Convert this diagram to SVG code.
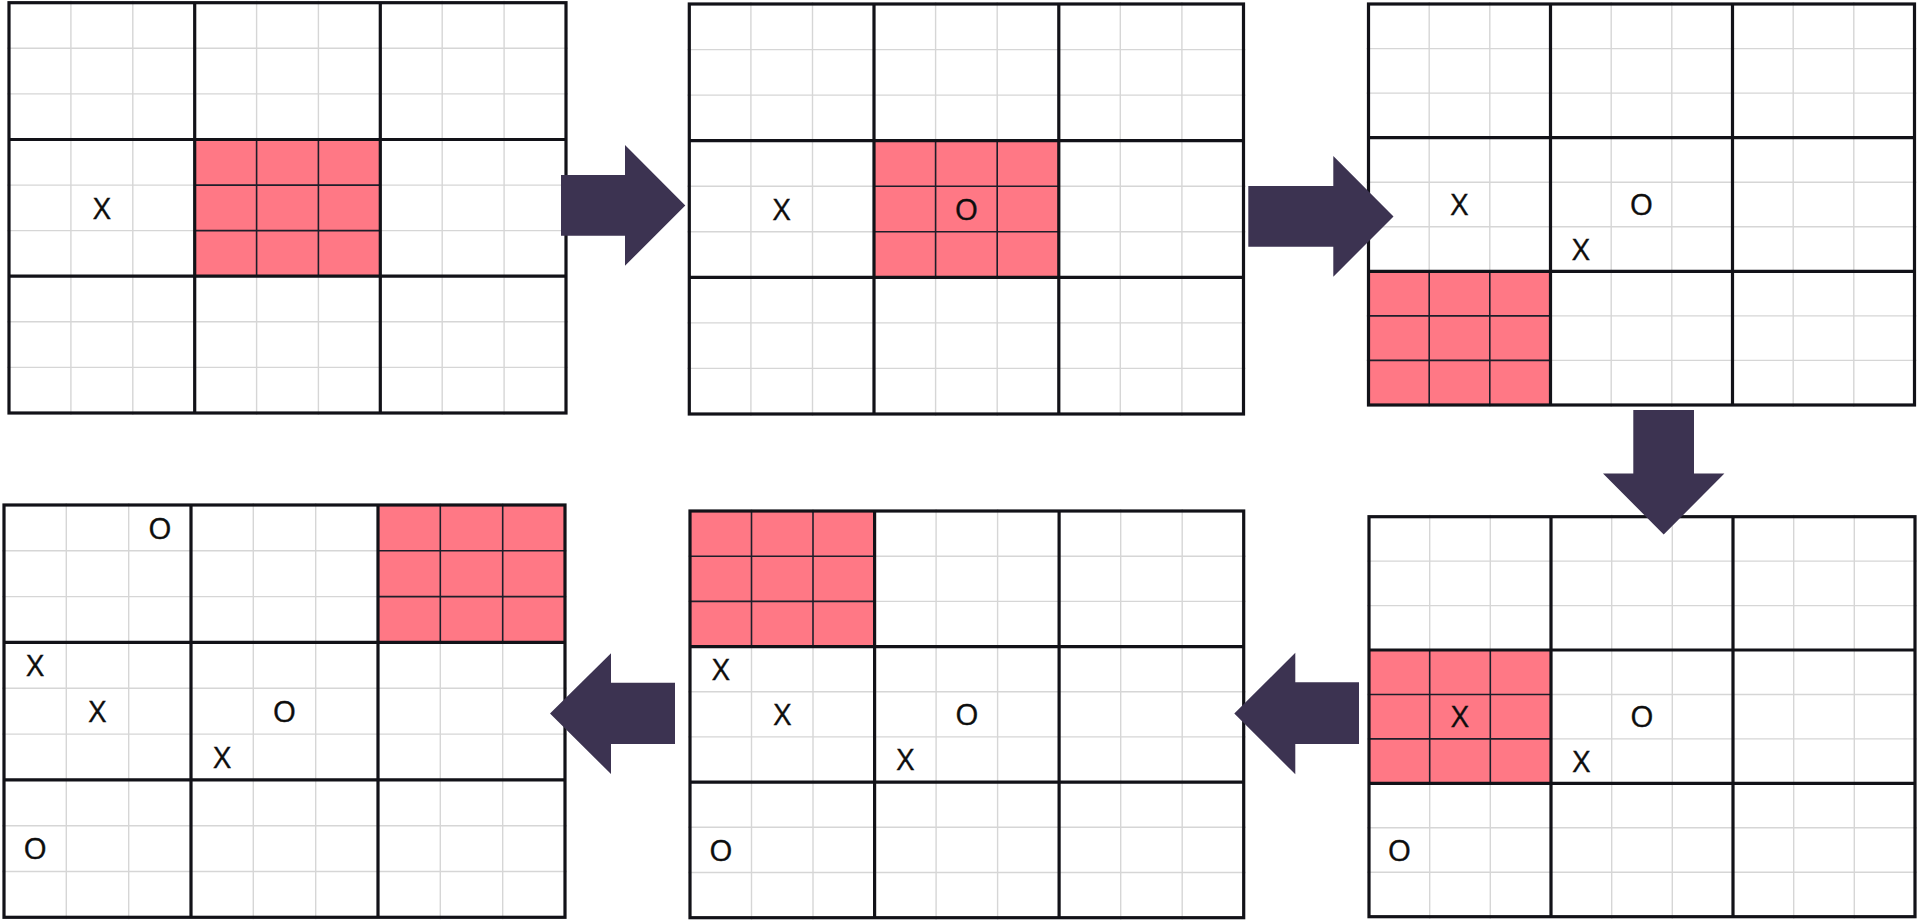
<svg xmlns="http://www.w3.org/2000/svg" width="1920" height="923" viewBox="0 0 1920 923">
<style>
.bg{fill:#ffffff}
.thin{fill:none;stroke:#d6d6d6;stroke-width:1.4}
.thick{fill:none;stroke:#121218;stroke-width:3.2}
.hl{fill:#ff7885}
.hlline{fill:none;stroke:#1e1e2a;stroke-width:1.6}
.mark{font-family:"Open Sans","Liberation Sans",Arial,sans-serif;font-size:30px;fill:#0d0d0d;stroke:#0d0d0d;stroke-width:0.4;text-anchor:middle}
.arrow{fill:#3c3351}
</style>
<rect class="bg" x="0" y="0" width="1920" height="923"/>

<g id="board1">
<path class="thin" d="M70.9 0.7V415M132.8 0.7V415M256.6 0.7V415M318.4 0.7V415M442.2 0.7V415M504.1 0.7V415M7 48.3H568M7 93.9H568M7 185.1H568M7 230.6H568M7 321.8H568M7 367.4H568"/>
<rect class="hl" x="194.7" y="139.5" width="185.6" height="136.7"/>
<path class="hlline" d="M256.6 139.5V276.2M318.4 139.5V276.2M194.7 185.1H380.3M194.7 230.6H380.3"/>
<path class="thick" d="M194.7 2.7V413M380.3 2.7V413M9 139.5H566M9 276.2H566"/>
<rect class="thick" x="9" y="2.7" width="557" height="410.3"/>
<text class="mark" x="101.8" y="218.6">X</text>
</g>

<g id="board2">
<path class="thin" d="M750.9 2V416M812.5 2V416M935.6 2V416M997.2 2V416M1120.3 2V416M1181.9 2V416M687.3 49.6H1245.5M687.3 95.1H1245.5M687.3 186.2H1245.5M687.3 231.8H1245.5M687.3 322.9H1245.5M687.3 368.4H1245.5"/>
<rect class="hl" x="874" y="140.7" width="184.8" height="136.6"/>
<path class="hlline" d="M935.6 140.7V277.3M997.2 140.7V277.3M874 186.2H1058.8M874 231.8H1058.8"/>
<path class="thick" d="M874 4V414M1058.8 4V414M689.3 140.7H1243.5M689.3 277.3H1243.5"/>
<rect class="thick" x="689.3" y="4" width="554.2" height="410"/>
<text class="mark" x="781.7" y="219.7">X</text>
<text class="mark" x="966.4" y="219.7">O</text>
</g>

<g id="board3">
<path class="thin" d="M1429.2 2V407M1489.8 2V407M1611.2 2V407M1671.8 2V407M1793.2 2V407M1853.8 2V407M1366.5 48.6H1916.5M1366.5 93.1H1916.5M1366.5 182.2H1916.5M1366.5 226.8H1916.5M1366.5 315.9H1916.5M1366.5 360.4H1916.5"/>
<rect class="hl" x="1368.5" y="271.3" width="182" height="133.7"/>
<path class="hlline" d="M1429.2 271.3V405M1489.8 271.3V405M1368.5 315.9H1550.5M1368.5 360.4H1550.5"/>
<path class="thick" d="M1550.5 4V405M1732.5 4V405M1368.5 137.7H1914.5M1368.5 271.3H1914.5"/>
<rect class="thick" x="1368.5" y="4" width="546" height="401"/>
<text class="mark" x="1459.5" y="215.2">X</text>
<text class="mark" x="1641.5" y="215.2">O</text>
<text class="mark" x="1580.8" y="259.8">X</text>
</g>

<g id="board4">
<path class="thin" d="M1429.7 514.7V918.7M1490.3 514.7V918.7M1611.7 514.7V918.7M1672.3 514.7V918.7M1793.7 514.7V918.7M1854.3 514.7V918.7M1367 561.1H1917M1367 605.6H1917M1367 694.5H1917M1367 738.9H1917M1367 827.8H1917M1367 872.3H1917"/>
<rect class="hl" x="1369" y="650" width="182" height="133.4"/>
<path class="hlline" d="M1429.7 650V783.4M1490.3 650V783.4M1369 694.5H1551M1369 738.9H1551"/>
<path class="thick" d="M1551 516.7V916.7M1733 516.7V916.7M1369 650H1915M1369 783.4H1915"/>
<rect class="thick" x="1369" y="516.7" width="546" height="400"/>
<text class="mark" x="1460" y="727.4">X</text>
<text class="mark" x="1642" y="727.4">O</text>
<text class="mark" x="1581.3" y="771.8">X</text>
<text class="mark" x="1399.3" y="860.7">O</text>
</g>

<g id="board5">
<path class="thin" d="M751.5 509V919.7M813 509V919.7M936.1 509V919.7M997.6 509V919.7M1120.7 509V919.7M1182.2 509V919.7M688 556.2H1245.7M688 601.4H1245.7M688 691.8H1245.7M688 736.9H1245.7M688 827.3H1245.7M688 872.5H1245.7"/>
<rect class="hl" x="690" y="511" width="184.6" height="135.6"/>
<path class="hlline" d="M751.5 511V646.6M813 511V646.6M690 556.2H874.6M690 601.4H874.6"/>
<path class="thick" d="M874.6 511V917.7M1059.1 511V917.7M690 646.6H1243.7M690 782.1H1243.7"/>
<rect class="thick" x="690" y="511" width="553.7" height="406.7"/>
<text class="mark" x="720.8" y="679.9">X</text>
<text class="mark" x="782.3" y="725">X</text>
<text class="mark" x="966.8" y="725">O</text>
<text class="mark" x="905.3" y="770.2">X</text>
<text class="mark" x="720.8" y="860.6">O</text>
</g>

<g id="board6">
<path class="thin" d="M66.3 503V919.3M128.7 503V919.3M253.3 503V919.3M315.7 503V919.3M440.3 503V919.3M502.7 503V919.3M2 550.8H567M2 596.6H567M2 688.2H567M2 734.1H567M2 825.7H567M2 871.5H567"/>
<rect class="hl" x="378" y="505" width="187" height="137.4"/>
<path class="hlline" d="M440.3 505V642.4M502.7 505V642.4M378 550.8H565M378 596.6H565"/>
<path class="thick" d="M191 505V917.3M378 505V917.3M4 642.4H565M4 779.9H565"/>
<rect class="thick" x="4" y="505" width="561" height="412.3"/>
<text class="mark" x="159.8" y="538.6">O</text>
<text class="mark" x="35.2" y="676">X</text>
<text class="mark" x="97.5" y="721.8">X</text>
<text class="mark" x="284.5" y="721.8">O</text>
<text class="mark" x="222.2" y="767.6">X</text>
<text class="mark" x="35.2" y="859.3">O</text>
</g>

<g id="connectors">
<polygon class="arrow" points="561,175 625,175 625,145 685.3,205.4 625,265.8 625,235.7 561,235.7"/>
<polygon class="arrow" points="1248.3,186 1333.3,186 1333.3,156 1393.5,216.4 1333.3,276.8 1333.3,246.7 1248.3,246.7"/>
<polygon class="arrow" points="1633.3,410 1694,410 1694,473.5 1724.4,473.5 1663.7,534.5 1603,473.5 1633.3,473.5"/>
<polygon class="arrow" points="1359,682.3 1295.3,682.3 1295.3,652.7 1234.3,713.5 1295.3,774.3 1295.3,744 1359,744"/>
<polygon class="arrow" points="675,682.7 611,682.7 611,653.3 550,713.6 611,774 611,744 675,744"/>
</g>
</svg>
